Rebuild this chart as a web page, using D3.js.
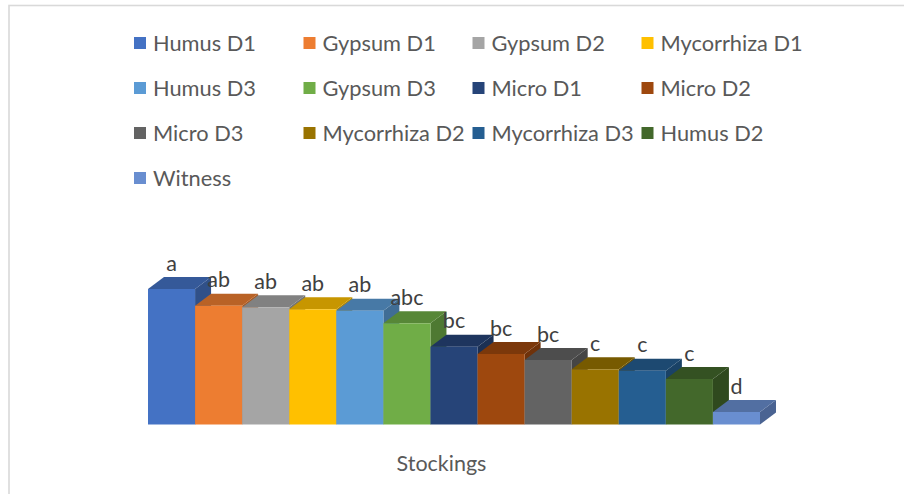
<!DOCTYPE html>
<html><head><meta charset="utf-8">
<script src="https://cdn.jsdelivr.net/npm/d3@7"></script>
<style>html,body{margin:0;padding:0;background:#fff;overflow:hidden}</style>
</head><body>
<svg id="chart" width="904" height="494"></svg>
<script>
const categories = ["Humus D1","Gypsum D1","Gypsum D2","Mycorrhiza D1","Humus D3","Gypsum D3","Micro D1","Micro D2","Micro D3","Mycorrhiza D2","Mycorrhiza D3","Humus D2","Witness"];
const values = [13.55, 11.88, 11.72, 11.52, 11.38, 10.12, 7.78, 7.05, 6.45, 5.52, 5.38, 4.55, 1.25];
const letters = ["a","ab","ab","ab","ab","abc","bc","bc","bc","c","c","c","d"];
const colors = ["#4472C4","#ED7D31","#A5A5A5","#FFC000","#5B9BD5","#70AD47","#264478","#9E480E","#636363","#997300","#255E91","#43682B","#698ED0"];
const axisTitle = "Stockings";

const svg = d3.select("#chart");
const font = "Lato, 'Open Sans', sans-serif";

// chart border
svg.append("rect").attr("x",9).attr("y",5.5).attr("width",1000).attr("height",1000)
  .attr("fill","none").attr("stroke","#d9d9d9").attr("stroke-width",1.6);

const x = d3.scaleBand().domain(categories).range([148, 760]).padding(0);
const y = d3.scaleLinear().domain([0, 13.55]).range([424.5, 289]);
const dx = 16, dy = 12;

const shade = (c, k) => { const o = d3.rgb(c); return d3.rgb(o.r*k, o.g*k, o.b*k).formatHex(); };

const g = svg.append("g");
categories.forEach((c, i) => {
  const x0 = x(c), x1 = x0 + x.bandwidth(), yt = y(values[i]), yb = y(0);
  const bar = g.append("g");
  bar.append("path").attr("d", `M${x1},${yb}L${x1},${yt}L${x1+dx},${yt-dy}L${x1+dx},${yb-dy}Z`)
    .attr("fill", shade(colors[i], 0.7));
  bar.append("path").attr("d", `M${x0},${yt}L${x1},${yt}L${x1+dx},${yt-dy}L${x0+dx},${yt-dy}Z`)
    .attr("fill", shade(colors[i], 0.78));
  bar.append("rect").attr("x", x0).attr("y", yt).attr("width", x.bandwidth()).attr("height", yb - yt)
    .attr("fill", colors[i]);
});

// data labels
svg.append("g").selectAll("text").data(categories).join("text")
  .attr("x", d => x(d) + x.bandwidth()/2)
  .attr("y", (d,i) => y(values[i]) - 18.5)
  .attr("text-anchor","middle")
  .attr("font-family", font).attr("font-size", 21.5).attr("fill","#404040")
  .text((d,i) => letters[i]);

// axis title
svg.append("text").attr("x", 441.5).attr("y", 471).attr("text-anchor","middle")
  .attr("font-family", font).attr("font-size", 21.5).attr("fill","#595959").text(axisTitle);

// legend
const colX = [134, 303.5, 472.5, 641.5];
const rowY = [43, 88, 133, 178];
const leg = svg.append("g").selectAll("g").data(categories).join("g")
  .attr("transform", (d,i) => `translate(${colX[i%4]},${rowY[Math.floor(i/4)]})`);
leg.append("rect").attr("x",0).attr("y",-6).attr("width",12).attr("height",12)
  .attr("fill", (d,i) => colors[i]);
leg.append("text").attr("x", 19).attr("y", 7.5)
  .attr("font-family", font).attr("font-size", 21.8).attr("fill","#595959")
  .text(d => d);
</script>
</body></html>
